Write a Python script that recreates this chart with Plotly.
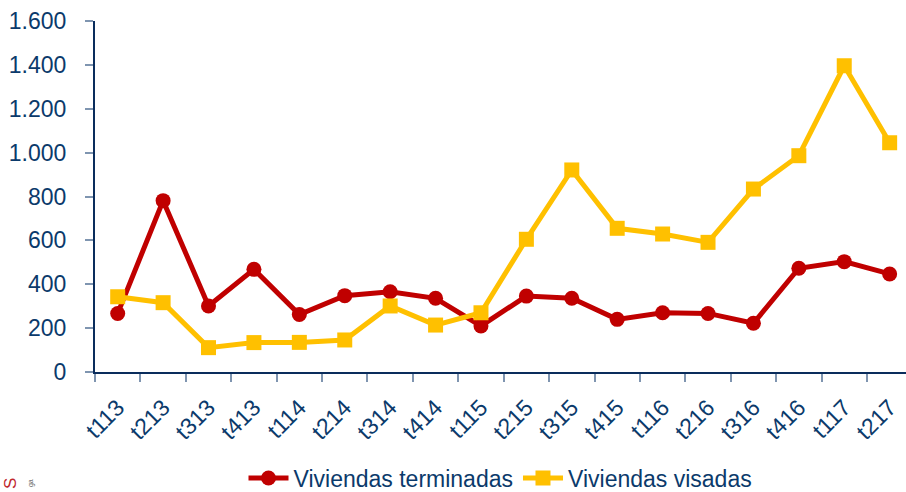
import plotly.graph_objects as go

categories = ["t113", "t213", "t313", "t413", "t114", "t214", "t314", "t414", "t115",
              "t215", "t315", "t415", "t116", "t216", "t316", "t416", "t117", "t217"]
terminadas = [267, 781, 301, 468, 262, 348, 366, 336, 210, 346, 336, 240, 270, 267, 222, 473, 503, 447]
visadas = [343, 316, 111, 134, 135, 146, 301, 214, 270, 605, 921, 655, 629, 591, 834, 986, 1396, 1045]
y_ticks = [0, 200, 400, 600, 800, 1000, 1200, 1400, 1600]

RED = "#c00000"
YEL = "#ffc000"
NAVY = "#0b3a6b"
AXIS = "#0a2d5c"
TICK = "#7f95b0"
FONT = "Arial, Liberation Sans, sans-serif"

fig = go.Figure()
fig.add_trace(go.Scatter(x=categories, y=terminadas, name="Viviendas terminadas",
                         mode="lines+markers",
                         line=dict(color=RED, width=5),
                         marker=dict(symbol="circle", size=15, color=RED)))
fig.add_trace(go.Scatter(x=categories, y=visadas, name="Viviendas visadas",
                         mode="lines+markers",
                         line=dict(color=YEL, width=5),
                         marker=dict(symbol="square", size=15, color=YEL)))

fig.update_layout(
    width=906, height=492,
    margin=dict(l=95, r=0, t=21, b=120, autoexpand=False),
    paper_bgcolor="white", plot_bgcolor="white",
    separators=",.",
    font=dict(family=FONT, color=NAVY, size=22),
    showlegend=True,
    legend=dict(orientation="h", x=0.5, xanchor="center", y=-0.302, yanchor="middle",
                font=dict(size=23, color=NAVY), itemwidth=40, tracegroupgap=0),
    xaxis=dict(type="category", range=[-0.5, 17.36], showgrid=False, zeroline=False,
               automargin=False,
               showline=True, linecolor=AXIS, linewidth=2,
               ticks="outside", ticklen=8, tickcolor=TICK, tickwidth=2,
               tickson="boundaries", tickangle=-45, ticklabelstandoff=11,
               tickfont=dict(size=23, color=NAVY)),
    yaxis=dict(range=[0, 1600], tickvals=y_ticks, tickformat=",d", showgrid=False,
               zeroline=False, showline=True, linecolor=AXIS, linewidth=2,
               automargin=False,
               ticks="outside", ticklen=8, tickcolor=TICK, tickwidth=2,
               ticklabelstandoff=14, tickfont=dict(size=23, color=NAVY)),
)

fig.add_annotation(text="S", xref="paper", yref="paper", x=-0.105, y=-0.295,
                   xanchor="center", yanchor="top", showarrow=False, textangle=-90,
                   font=dict(size=17, color="#c0272d", family=FONT))
fig.add_annotation(text="ga", xref="paper", yref="paper", x=-0.078, y=-0.3,
                   xanchor="center", yanchor="top", showarrow=False, textangle=-90,
                   font=dict(size=7, color="#666666", family=FONT))

fig.write_html("out.html", config={"displayModeBar": False},
               post_script="document.body.style.margin='0';document.body.style.overflow='hidden';")
